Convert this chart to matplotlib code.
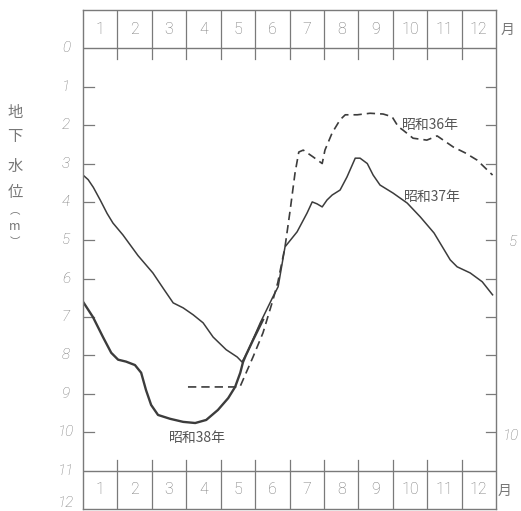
import matplotlib
matplotlib.use("Agg")
import matplotlib.pyplot as plt

plt.rcParams['font.family'] = ['Noto Sans CJK JP', 'DejaVu Sans']

# ---- data (month position 0..12, groundwater level in m) ----
months = ['1', '2', '3', '4', '5', '6', '7', '8', '9', '10', '11', '12']
depth_ticks = list(range(0, 13))

s36_x = [3.05, 4.56, 4.74, 4.94, 5.23, 5.52, 5.66, 5.87, 6.02, 6.16, 6.27, 6.4,
         6.69, 6.95, 7.03, 7.24, 7.47, 7.62, 7.97, 8.34, 8.72, 8.98, 9.16, 9.3,
         9.59, 9.99, 10.29, 10.76, 11.1, 11.45, 11.9]
s36_y = [8.82, 8.82, 8.45, 8.04, 7.41, 6.55, 6.1, 5.17, 4.21, 3.25, 2.7, 2.65,
         2.83, 3.0, 2.65, 2.2, 1.86, 1.73, 1.73, 1.69, 1.71, 1.78, 2.04, 2.13,
         2.34, 2.39, 2.28, 2.57, 2.72, 2.91, 3.3]

s37_x = [0, 0.15, 0.3, 0.5, 0.7, 0.87, 1.16, 1.6, 2.03, 2.33, 2.62, 2.91, 3.2,
         3.49, 3.78, 4.16, 4.48, 4.62, 4.77, 5.15, 5.52, 5.67, 5.87, 6.22, 6.51,
         6.66, 6.8, 6.95, 7.09, 7.24, 7.47, 7.67, 7.91, 8.05, 8.26, 8.43, 8.63,
         9.01, 9.42, 9.8, 10.2, 10.67, 10.87, 11.25, 11.6, 11.9]
s37_y = [3.3, 3.42, 3.62, 3.95, 4.3, 4.55, 4.86, 5.4, 5.85, 6.25, 6.63, 6.76,
         6.94, 7.15, 7.52, 7.85, 8.04, 8.17, 7.93, 7.15, 6.47, 6.21, 5.17, 4.78,
         4.29, 4.0, 4.05, 4.13, 3.95, 3.82, 3.69, 3.35, 2.86, 2.86, 3.0, 3.3,
         3.56, 3.77, 4.03, 4.39, 4.81, 5.51, 5.69, 5.85, 6.08, 6.42]

s38_x = [0, 0.29, 0.58, 0.82, 1.02, 1.25, 1.51, 1.69, 1.83, 1.98, 2.18, 2.53,
         2.91, 3.26, 3.58, 3.92, 4.22, 4.42, 4.57, 4.65, 4.74, 4.94, 5.23]
s38_y = [6.6, 7.0, 7.52, 7.93, 8.11, 8.16, 8.25, 8.45, 8.9, 9.29, 9.55, 9.65,
         9.73, 9.76, 9.68, 9.42, 9.11, 8.82, 8.45, 8.17, 7.98, 7.6, 7.07]

labels = ['昭和36年', '昭和37年', '昭和38年']

W, H = 521, 511
fig = plt.figure(figsize=(W / 100, H / 100), dpi=100)
fig.patch.set_facecolor('white')

L, R, T, B = 83, 496, 10, 509
ax = fig.add_axes([L / W, 1 - B / H, (R - L) / W, (B - T) / H])
ax.set_xlim(0, 12)
ax.set_ylim(12, -1)
ax.set_xticks([])
ax.set_yticks([])

frame = '#7a7a7a'
txt = '#777777'
numfont = ['Roboto', 'DejaVu Sans']
for s in ax.spines.values():
    s.set_color(frame)
    s.set_linewidth(1.0)

# month bands
ax.axhline(0, color=frame, lw=1.0)
ax.axhline(11, color=frame, lw=1.0)
for i in range(1, 12):
    ax.plot([i, i], [-1, 0.28], color=frame, lw=0.9)
    ax.plot([i, i], [10.72, 12], color=frame, lw=0.9)
for i, m in enumerate(months):
    ax.text(i + 0.5, -0.5, m, ha='center', va='center', fontsize=11.5,
            color=txt, family=numfont, fontweight='light')
    ax.text(i + 0.5, 11.5, m, ha='center', va='center', fontsize=11.5,
            color=txt, family=numfont, fontweight='light')

# depth ticks, left and right
for d in range(1, 11):
    ax.plot([0, 0.33], [d, d], color=frame, lw=0.9)
    ax.plot([11.7, 12], [d, d], color=frame, lw=0.9)

def fx(px):
    return px / W

def fy(py):
    return 1 - py / H

for d in depth_ticks:
    py = T + (d + 1) * (B - T) / 13
    if d == 12:
        py = 503
    fig.text(fx(66), fy(py), str(d), ha='center', va='center', fontsize=11,
             color=txt, style='italic', family=numfont, fontweight='light')

fig.text(fx(513), fy(242), '5', ha='center', va='center', fontsize=11,
         color=txt, style='italic', family=numfont, fontweight='light')
fig.text(fx(511), fy(436), '10', ha='center', va='center', fontsize=11,
         color=txt, style='italic', family=numfont, fontweight='light')
fig.text(fx(508), fy(30), '月', ha='center', va='center', fontsize=10, color=txt)
fig.text(fx(505), fy(491), '月', ha='center', va='center', fontsize=10, color=txt)

# vertical y-label
ylab = [('地', 112, 11), ('下', 136, 11), ('水', 166, 11), ('位', 193, 11),
        ('︵', 211, 7.5), ('m', 226, 9), ('︶', 242, 7.5)]
for ch, py, fs in ylab:
    fig.text(fx(15), fy(py), ch, ha='center', va='center', fontsize=fs,
             color=txt)

# curves
line = '#3c3c3c'
ax.plot(s36_x, s36_y, color=line, lw=1.2, ls=(0, (5, 3)))
ax.plot(s37_x, s37_y, color=line, lw=1.1)
ax.plot(s38_x, s38_y, color=line, lw=1.7)

ax.text(9.27, 2.0, labels[0], ha='left', va='center', fontsize=10, color='#555555')
ax.text(9.33, 3.87, labels[1], ha='left', va='center', fontsize=10, color='#555555')
ax.text(2.5, 10.15, labels[2], ha='left', va='center', fontsize=10, color='#555555')

fig.savefig('out.png', dpi=100, facecolor='white')
